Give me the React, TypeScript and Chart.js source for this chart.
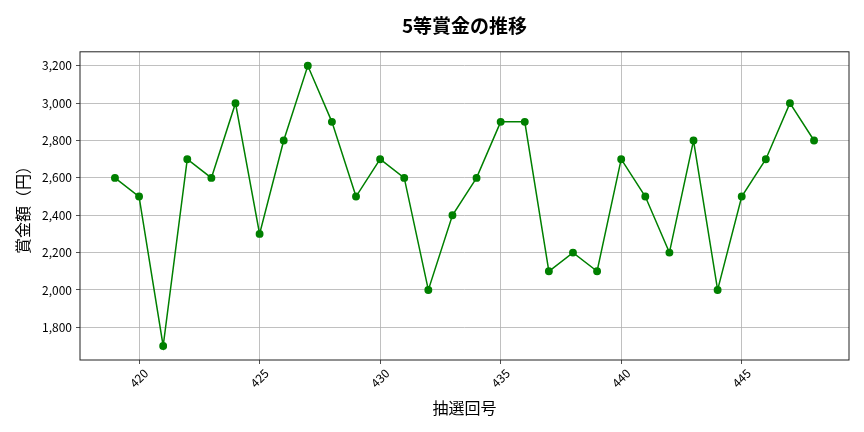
import React, { useRef, useEffect } from 'react';
import { Chart, registerables } from 'chart.js';

Chart.register(...registerables);

// 抽選回号 and 5等賞金 (yen)
const rounds = [419, 420, 421, 422, 423, 424, 425, 426, 427, 428, 429, 430, 431, 432, 433, 434, 435, 436, 437, 438, 439, 440, 441, 442, 443, 444, 445, 446, 447, 448];
const prizes = [2600, 2500, 1700, 2700, 2600, 3000, 2300, 2800, 3200, 2900, 2500, 2700, 2600, 2000, 2400, 2600, 2900, 2900, 2100, 2200, 2100, 2700, 2500, 2200, 2800, 2000, 2500, 2700, 3000, 2800];
const xTickValues = [420, 425, 430, 435, 440, 445];
const yTickValues = [1800, 2000, 2200, 2400, 2600, 2800, 3000, 3200];

const FONT = '"Noto Sans CJK JP", "Noto Sans", sans-serif';

// box around the plot area, like matplotlib spines
const framePlugin = {
  id: 'frame',
  afterDraw(chart: Chart) {
    const { ctx, chartArea } = chart;
    ctx.save();
    ctx.strokeStyle = '#222';
    ctx.lineWidth = 1;
    ctx.strokeRect(chartArea.left, chartArea.top, chartArea.right - chartArea.left, chartArea.bottom - chartArea.top);
    ctx.restore();
  },
};

const PrizeChart: React.FC = () => {
  const chartRef = useRef<HTMLCanvasElement | null>(null);
  const chartInstance = useRef<Chart | null>(null);

  useEffect(() => {
    document.body.style.margin = '0';
    if (chartInstance.current) {
      chartInstance.current.destroy();
    }
    const ctx = chartRef.current?.getContext('2d');
    if (!ctx) return;

    chartInstance.current = new Chart(ctx, {
      type: 'line',
      data: {
        datasets: [
          {
            label: '5等賞金',
            data: rounds.map((r, i) => ({ x: r, y: prizes[i] })),
            borderColor: '#008000',
            backgroundColor: '#008000',
            borderWidth: 1.5,
            pointRadius: 3.2,
            pointBackgroundColor: '#008000',
            pointBorderColor: '#008000',
            tension: 0,
          },
        ],
      },
      options: {
        responsive: false,
        animation: false,
        devicePixelRatio: 1,
        layout: { padding: { left: 0, right: 15, top: 0, bottom: 0 } },
        plugins: {
          legend: { display: false },
          tooltip: { enabled: false },
          title: {
            display: true,
            fullSize: false, // centre over the plot area
            text: '5等賞金の推移',
            color: '#000',
            font: { family: FONT, size: 19, weight: 'bold' },
            padding: { top: 14, bottom: 15 },
          },
        },
        scales: {
          x: {
            type: 'linear',
            min: 417.55,
            max: 449.45,
            afterBuildTicks: (scale: any) => {
              scale.ticks = xTickValues.map((v) => ({ value: v }));
            },
            afterFit: (scale: any) => {
              scale.height = 72;
            },
            border: { display: false },
            grid: { color: '#b0b0b0', lineWidth: 0.8, tickColor: '#222', tickLength: 4 },
            ticks: {
              color: '#000',
              font: { family: FONT, size: 12 },
              minRotation: 45,
              maxRotation: 45,
              labelOffset: 7,
              padding: 2,
              callback: (v: any) => String(v),
            },
            title: {
              display: true,
              text: '抽選回号',
              color: '#000',
              font: { family: FONT, size: 16 },
              padding: { top: 0, bottom: 14 },
            },
          },
          y: {
            type: 'linear',
            min: 1625,
            max: 3275,
            afterBuildTicks: (scale: any) => {
              scale.ticks = yTickValues.map((v) => ({ value: v }));
            },
            afterFit: (scale: any) => {
              scale.width = 80;
            },
            border: { display: false },
            grid: { color: '#b0b0b0', lineWidth: 0.8, tickColor: '#222', tickLength: 4 },
            ticks: {
              color: '#000',
              font: { family: FONT, size: 12 },
              padding: 4,
              callback: (v: any) => Number(v).toLocaleString('en-US'),
            },
            title: {
              display: true,
              text: '賞金額（円）',
              color: '#000',
              font: { family: FONT, size: 16 },
              padding: { top: 13, bottom: 0 },
            },
          },
        },
      },
      plugins: [framePlugin],
    });

    return () => {
      if (chartInstance.current) {
        chartInstance.current.destroy();
        chartInstance.current = null;
      }
    };
  }, []);

  return (
    <div style={{ position: 'absolute', left: 0, top: 0, width: 864, height: 432, background: '#fff' }}>
      <canvas ref={chartRef} width={864} height={432} />
    </div>
  );
};

export default function App() {
  return <PrizeChart />;
}
